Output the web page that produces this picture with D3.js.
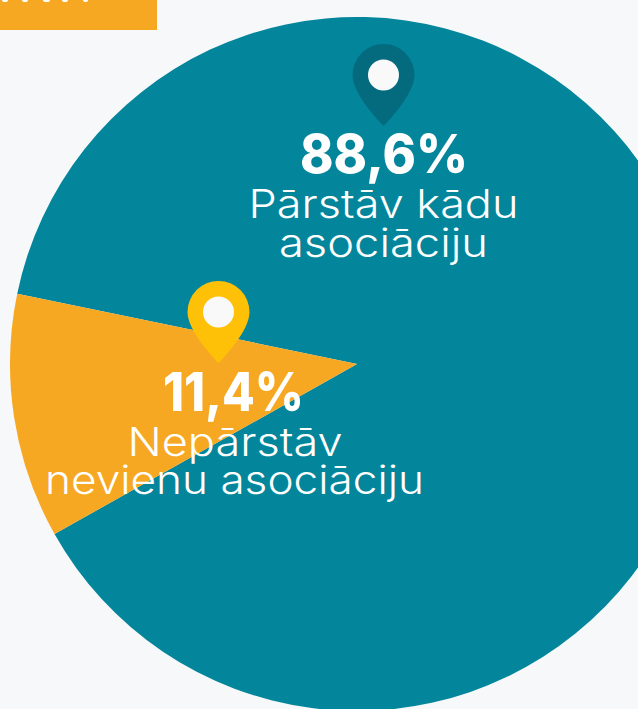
<!DOCTYPE html>
<html><head><meta charset="utf-8">
<script src="https://cdn.jsdelivr.net/npm/d3@7/dist/d3.min.js"></script>
<style>html,body{margin:0;padding:0;background:#f7f8fa;overflow:hidden}svg{display:block}text{font-family:Inter,sans-serif;fill:#fff;text-anchor:middle}</style>
</head><body><svg id="c" width="638" height="709"></svg>
<script>
const categories = ["Pārstāv kādu asociāciju", "Nepārstāv nevienu asociāciju"];
const values = [88.6, 11.4];
const valueLabels = ["88,6%", "11,4%"];
const labelLines = [["Pārstāv kādu", "asociāciju"], ["Nepārstāv", "nevienu asociāciju"]];
const colors = ["#03869c", "#f7a823"];
const pinColors = ["#046b7e", "#fec107"];

const W = 638, H = 709, cx = 357, cy = 364, R = 347;
const svg = d3.select("#c");
const deg = Math.PI / 180;

svg.append("rect").attr("x", 0).attr("y", 0).attr("width", 157).attr("height", 30).attr("fill", "#f7a823");
// remnants of the heading text cropped off at the top edge
[[2, 6], [22, 6], [43, 7], [62, 6], [83, 5]].forEach(([x, w]) =>
  svg.append("rect").attr("x", x).attr("y", -3).attr("width", w).attr("height", 5).attr("rx", 2).attr("fill", "#fff"));

const pie = d3.pie().sort(null).startAngle(281.7 * deg).endAngle((281.7 + 360) * deg);
const arc = d3.arc().innerRadius(0).outerRadius(R);
const arcs = pie(values);
svg.append("g").attr("transform", `translate(${cx},${cy})`)
  .selectAll("path").data(arcs).join("path")
  .attr("d", arc).attr("fill", (d, i) => colors[i]);

const spots = [
  {pinX: 383.5, pinTop: 44, vx: 384, vy: 173, vw: 168, ly: [218, 257], lx: [383.5, 383.5], lw: [270, 209]},
  {pinX: 218.5, pinTop: 281, vx: 233.5, vy: 411, vw: 141, ly: [456, 494], lx: [235, 234.5], lw: [215, 379]}
];

const pinPath = "M0,82 C-4,78 -31,50 -31,31 A31,31 0 1 1 31,31 C31,50 4,78 0,82 Z";
const g = svg.append("g");
spots.forEach((s, i) => {
  const p = g.append("g").attr("transform", `translate(${s.pinX},${s.pinTop})`);
  p.append("path").attr("d", pinPath).attr("fill", pinColors[i]);
  p.append("circle").attr("cx", 0).attr("cy", 31).attr("r", 15.5).attr("fill", "#f9f9fa");
  g.append("text").attr("x", s.vx).attr("y", s.vy).attr("font-size", 53).attr("font-weight", 800)
    .attr("textLength", s.vw).attr("lengthAdjust", "spacingAndGlyphs").text(valueLabels[i]);
  labelLines[i].forEach((t, j) => {
    g.append("text").attr("x", s.lx[j]).attr("y", s.ly[j]).attr("font-size", 39).attr("font-weight", 300)
      .attr("textLength", s.lw[j]).attr("lengthAdjust", "spacingAndGlyphs").text(t);
  });
});
</script></body></html>
